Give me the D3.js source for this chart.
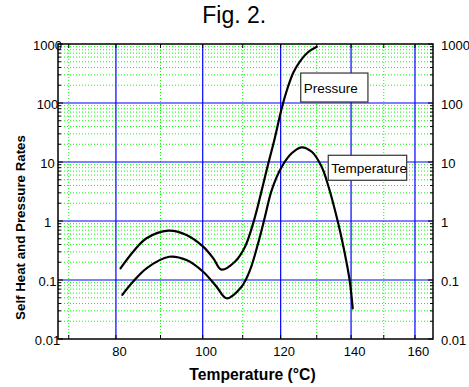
<!DOCTYPE html>
<html><head><meta charset="utf-8">
<script src="https://cdn.jsdelivr.net/npm/d3@7"></script>
<style>
body{margin:0;background:#fff}
svg{display:block}
text{font-family:"Liberation Sans",Arial,sans-serif;fill:#000}
</style>
</head><body>
<svg id="chart" width="469" height="387"></svg>
<script>
// ---- data ----
const pressureT    = [81.0, 83.8, 86.8, 91.8, 96.1, 100.1, 102.6, 104.6, 108.0, 110.6, 112.7, 114.0, 115.4, 116.7, 118.3, 120.3, 121.6, 123.4, 125.3, 127.6, 130.0];
const pressureRate = [0.158, 0.302, 0.509, 0.686, 0.579, 0.367, 0.233, 0.150, 0.204, 0.367, 0.914, 1.87, 4.36, 9.5, 23.6, 82, 158, 322, 509, 732, 900];
const tempT        = [81.4, 83.8, 86.8, 92.0, 96.1, 100.1, 103.4, 105.9, 109.7, 111.9, 114.0, 115.8, 117.6, 120.3, 123.0, 125.7, 128.6, 131.4, 132.8, 136.2, 138.7, 139.7, 140.5];
const tempRate     = [0.056, 0.094, 0.158, 0.248, 0.218, 0.138, 0.077, 0.049, 0.077, 0.148, 0.419, 1.18, 3.35, 8.32, 14.05, 17.75, 14.9, 8.32, 4.95, 0.914, 0.192, 0.088, 0.033];
const xTickValues  = [80, 100, 120, 140, 160];
const xMinorValues = [70, 90, 110, 130, 150];
const yTickValues  = [0.01, 0.1, 1, 10, 100, 1000];
const yTickLabels  = ["0.01", "0.1", "1", "10", "100", "1000"];
const seriesNames  = ["Pressure", "Temperature"];
const titleText    = "Fig. 2.";
const xTitle       = "Temperature (°C)";
const yTitle       = "Self Heat and Pressure Rates";

// ---- layout ----
const svg = d3.select("#chart");
const L = 58, R = 433, T = 44, B = 339;
const inv = t => 1 / (t + 273.15);
const xs = d3.scaleLinear().domain([inv(67.8), inv(166)]).range([L, R]);
const x = t => xs(inv(t));
const y = d3.scaleLog().domain([0.01, 1000]).range([B, T]);

// annotation boxes in data space: [T left, T right, value top, value bottom]
const boxes = [
  {name: seriesNames[0], t0: 125.5, t1: 145.1, v0: 322, v1: 104},
  {name: seriesNames[1], t0: 133.3, t1: 157.3, v0: 13.0, v1: 4.90}
];

// minor y values 2..9 per decade
const yMinor = [];
for (let d = 0.01; d < 1000; d *= 10) for (let k = 2; k <= 9; k++) yMinor.push(+(d * k).toPrecision(3));
const xAllTicks = d3.range(70, 161, 10);

const g = svg.append("g");

// minor grid
g.selectAll(".hmin").data(yMinor).join("line")
  .attr("x1", L).attr("x2", R).attr("y1", d => y(d)).attr("y2", d => y(d))
  .attr("stroke", "#00ff00").attr("stroke-width", 1).attr("stroke-dasharray", "1,2");
g.selectAll(".vmin").data(xMinorValues).join("line")
  .attr("x1", d => x(d)).attr("x2", d => x(d)).attr("y1", T).attr("y2", B)
  .attr("stroke", "#00ff00").attr("stroke-width", 1).attr("stroke-dasharray", "1,2");

// major grid
g.selectAll(".hmaj").data(yTickValues.slice(1, -1)).join("line")
  .attr("x1", L).attr("x2", R).attr("y1", d => y(d)).attr("y2", d => y(d))
  .attr("stroke", "#0000ff").attr("stroke-width", 1.2);
g.selectAll(".vmaj").data(xTickValues).join("line")
  .attr("x1", d => x(d)).attr("x2", d => x(d)).attr("y1", T).attr("y2", B)
  .attr("stroke", "#0000ff").attr("stroke-width", 1.2);

// curves
const line = d3.line().x(d => x(d[0])).y(d => y(d[1])).curve(d3.curveCatmullRom.alpha(0.5));
const series = [
  d3.zip(pressureT, pressureRate),
  d3.zip(tempT, tempRate)
];
g.selectAll(".curve").data(series).join("path")
  .attr("d", line).attr("fill", "none").attr("stroke", "#000").attr("stroke-width", 2.2)
  .attr("stroke-linejoin", "round").attr("stroke-linecap", "round");

// frame
g.append("rect").attr("x", L).attr("y", T).attr("width", R - L).attr("height", B - T)
  .attr("fill", "none").attr("stroke", "#000").attr("stroke-width", 1.5);

// ticks: top & bottom (inward)
const tk = g.append("g").attr("stroke", "#000").attr("stroke-width", 1);
xAllTicks.forEach(t => {
  tk.append("line").attr("x1", x(t)).attr("x2", x(t)).attr("y1", B).attr("y2", B - 4);
  tk.append("line").attr("x1", x(t)).attr("x2", x(t)).attr("y1", T).attr("y2", T + 4);
});
// left & right ticks
yTickValues.forEach(v => {
  tk.append("line").attr("x1", L).attr("x2", L + 5).attr("y1", y(v)).attr("y2", y(v));
  tk.append("line").attr("x1", R).attr("x2", R - 5).attr("y1", y(v)).attr("y2", y(v));
});
yMinor.forEach(v => {
  tk.append("line").attr("x1", L).attr("x2", L + 3).attr("y1", y(v)).attr("y2", y(v));
  tk.append("line").attr("x1", R).attr("x2", R - 3).attr("y1", y(v)).attr("y2", y(v));
});

// tick labels
g.selectAll(".xl").data(xTickValues).join("text")
  .attr("x", d => x(d) + 3.5).attr("y", 355.7).attr("text-anchor", "middle")
  .style("font-size", "13px").text(d => d);
g.selectAll(".yl").data(yTickValues).join("text")
  .attr("x", 47.5).attr("y", d => y(d) + 5.5).attr("text-anchor", "middle")
  .style("font-size", "13px").text((d, i) => yTickLabels[i]);
g.selectAll(".yr").data(yTickValues).join("text")
  .attr("x", 441).attr("y", d => y(d) + 5.5).attr("text-anchor", "start")
  .style("font-size", "13px").text((d, i) => yTickLabels[i]);

// titles
svg.append("text").attr("x", 234.2).attr("y", 22.7).attr("text-anchor", "middle")
  .style("font-size", "23px").text(titleText);
svg.append("text").attr("x", 252.5).attr("y", 380).attr("text-anchor", "middle")
  .style("font-size", "15.7px").style("font-weight", "bold").text(xTitle);
svg.append("text").attr("transform", "translate(24.5,227.5) rotate(-90)").attr("text-anchor", "middle")
  .style("font-size", "13.3px").style("font-weight", "bold").text(yTitle);

// annotation boxes
boxes.forEach(b => {
  const bx = x(b.t0), bw = x(b.t1) - x(b.t0), by = y(b.v0), bh = y(b.v1) - y(b.v0);
  svg.append("rect").attr("x", bx).attr("y", by).attr("width", bw).attr("height", bh)
    .attr("fill", "#fff").attr("stroke", "#333").attr("stroke-width", 1.2);
  svg.append("text").attr("x", bx + 3).attr("y", by + bh / 2 + 5.5)
    .style("font-size", "13.5px").text(b.name);
});
</script>
</body></html>
